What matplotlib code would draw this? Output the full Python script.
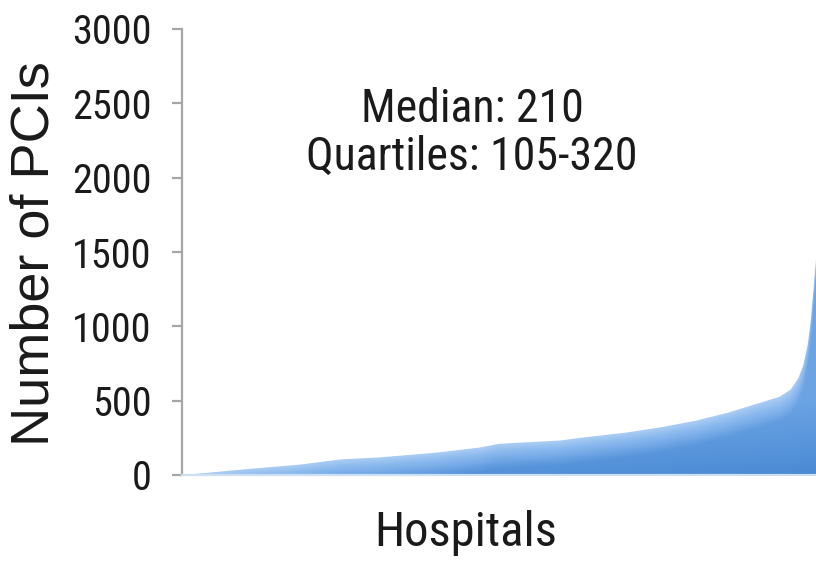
import numpy as np
import matplotlib.pyplot as plt
from matplotlib.colors import LinearSegmentedColormap

# ---- Data: hospitals sorted by PCI volume
hosp_pct = [0, 2.8, 10.3, 18.6, 25, 31, 40, 47, 50, 59.6, 62.8, 70, 75.4,
            81, 86, 91.2, 94.3, 96.0, 97.2, 98.0, 98.7, 99.2, 99.7, 100]
pcis = [0, 10, 40, 70, 105, 118, 150, 185, 210, 232, 250, 285, 320,
        365, 418, 486, 527, 575, 650, 740, 880, 1050, 1300, 1450]

y_ticks = [0, 500, 1000, 1500, 2000, 2500, 3000]
note = "Median: 210\nQuartiles: 105-320"

narrow = "Roboto Condensed"
regular = "Liberation Sans"

fig = plt.figure(figsize=(8.16, 5.65), dpi=100)
ax = fig.add_axes([182/816, 1 - 475/565, 1 - 182/816, (475 - 29)/565])

ax.set_xlim(0, 100)
ax.set_ylim(0, 3000)

# area, gradient fill clipped to it (lighter near the top edge)
poly = ax.fill_between(hosp_pct, pcis, 0, color="none", lw=0)
gx = np.linspace(0, 100, 800)
gy = np.linspace(0, 3000, 1000)
GX, GY = np.meshgrid(gx, gy)
top = np.interp(GX, hosp_pct, pcis)
depth_px = (top - GY) * 446 / 3000
t_edge = np.clip(depth_px / 25.0, 0, 1)
t_base = 0.35 * GX / 100.0 + 0.65 * np.clip(1 - GY / 500.0, 0, 1)
t = 0.15 + 0.85 * t_edge * (0.35 + 0.65 * t_base)
cmap = LinearSegmentedColormap.from_list("blu", ["#c4dcf8", "#8ebbef", "#69a2e3", "#4a8ad4"])
im = ax.imshow(t, extent=[0, 100, 0, 3000], origin="lower", aspect="auto",
               cmap=cmap, vmin=0, vmax=1, interpolation="bilinear", zorder=1)
im.set_clip_path(poly.get_paths()[0], transform=ax.transData)

for s in ["top", "right"]:
    ax.spines[s].set_visible(False)
ax.spines["left"].set_color("#a6a6a6")
ax.spines["left"].set_linewidth(1.6)
ax.spines["bottom"].set_color("#cddff2")
ax.spines["bottom"].set_linewidth(1.6)

ax.set_xticks([])
ax.set_yticks(y_ticks)
ax.set_yticklabels([str(v) for v in y_ticks], family=narrow, fontsize=29, color="#1a1a1a")
ax.tick_params(axis="y", length=7, width=1.6, color="#a6a6a6", pad=15)

fig.text(35/816, 1 - 254/565, "Number of PCIs", rotation=90, ha="center", va="center",
         family=regular, fontsize=39, color="#1a1a1a")
fig.text(466/816, 1 - 533/565, "Hospitals", ha="center", va="center",
         family=narrow, fontsize=35, color="#1a1a1a")
fig.text(472/816, 1 - 133/565, note, ha="center", va="center", linespacing=1.1,
         family=narrow, fontsize=33, color="#1a1a1a")

fig.savefig("out.png", dpi=100)
